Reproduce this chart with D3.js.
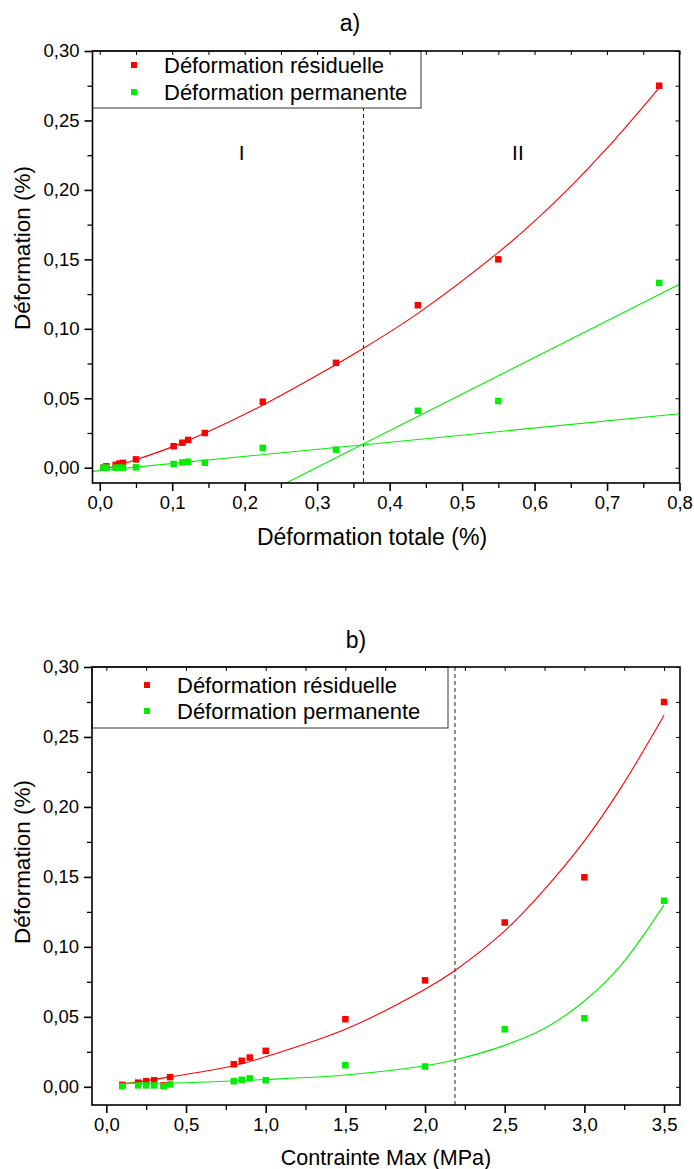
<!DOCTYPE html>
<html><head><meta charset="utf-8">
<script src="https://cdn.jsdelivr.net/npm/d3@7"></script>
<style>
body{margin:0;background:#fff}
svg{display:block}
text{font-family:"Liberation Sans",Arial,sans-serif;fill:#000}
</style>
</head><body>
<svg id="c" width="694" height="1169"></svg>
<script>
// ---------- Panel a) : strain vs total strain ----------
const totalDefA = [0.005, 0.009, 0.022, 0.027, 0.032, 0.050, 0.102, 0.114, 0.122, 0.145, 0.225, 0.326, 0.439, 0.550, 0.772];
const residA    = [0.000, 0.001, 0.002, 0.003, 0.0035, 0.006, 0.0155, 0.018, 0.020, 0.025, 0.0475, 0.0755, 0.117, 0.150, 0.275];
const permA     = [0.000, 0.000, 0.000, 0.000, 0.000, 0.0003, 0.0027, 0.0038, 0.0043, 0.0036, 0.0143, 0.013, 0.041, 0.048, 0.133];
// fitted curve
const residFitAx = [0.0, 0.05, 0.1, 0.15, 0.225, 0.3, 0.364, 0.44, 0.55, 0.6, 0.65, 0.7, 0.772];
const residFitAy = [-0.002, 0.0058, 0.015, 0.026, 0.045, 0.0665, 0.086, 0.1115, 0.155, 0.1775, 0.2025, 0.230, 0.2735];
// two linear fits of permanent strain
const permLine1x = [-0.01, 0.8];
const permLine1y = [-0.0026, 0.0388];
const permLine2x = [0.257, 0.8];
const permLine2y = [-0.011, 0.132];
const splitA = 0.364;
const xTicksA = [0, 0.1, 0.2, 0.3, 0.4, 0.5, 0.6, 0.7, 0.8];
const xTickLabelsA = ["0,0","0,1","0,2","0,3","0,4","0,5","0,6","0,7","0,8"];
const xMinorA = [0.05, 0.15, 0.25, 0.35, 0.45, 0.55, 0.65, 0.75];

// ---------- Panel b) : strain vs max stress ----------
const stressB = [0.1, 0.2, 0.25, 0.3, 0.36, 0.4, 0.8, 0.85, 0.9, 1.0, 1.5, 2.0, 2.5, 3.0, 3.5];
const residB  = [0.0014, 0.003, 0.004, 0.0047, 0.001, 0.0069, 0.0161, 0.0186, 0.0209, 0.0257, 0.0483, 0.0761, 0.1174, 0.1497, 0.275];
const permB   = [0.0004, 0.001, 0.001, 0.001, 0.0004, 0.0017, 0.004, 0.005, 0.006, 0.0047, 0.0154, 0.0145, 0.0411, 0.049, 0.133];
const residFitBx = [0.1, 0.4, 0.8, 1.0, 1.5, 2.0, 2.19, 2.5, 2.76, 3.0, 3.23, 3.5];
const residFitBy = [0.0019, 0.0071, 0.0150, 0.0215, 0.0411, 0.0697, 0.0833, 0.1114, 0.1424, 0.1757, 0.2138, 0.2655];
const permFitBx = [0.1, 0.4, 1.0, 1.5, 2.0, 2.19, 2.5, 2.76, 3.0, 3.23, 3.5];
const permFitBy = [0.0026, 0.0027, 0.0052, 0.0084, 0.015, 0.0193, 0.0296, 0.0424, 0.0613, 0.087, 0.130];
const splitB = 2.188;
const xTicksB = [0, 0.5, 1.0, 1.5, 2.0, 2.5, 3.0, 3.5];
const xTickLabelsB = ["0,0","0,5","1,0","1,5","2,0","2,5","3,0","3,5"];
const xMinorB = [0.25, 0.75, 1.25, 1.75, 2.25, 2.75, 3.25];

// shared y axis
const yTicks = [0, 0.05, 0.10, 0.15, 0.20, 0.25, 0.30];
const yTickLabels = ["0,00","0,05","0,10","0,15","0,20","0,25","0,30"];
const yMinor = [0.025, 0.075, 0.125, 0.175, 0.225, 0.275];

const seriesNames = ["Déformation résiduelle", "Déformation permanente"];
const colors = ["#ff0000", "#00ee00"];

const svg = d3.select("#c");
const zip = (xs, ys) => xs.map((v, i) => [v, ys[i]]);
const FONT = '"Liberation Sans",Arial,sans-serif';

function panel(cfg) {
  const g = svg.append("g");
  const x = d3.scaleLinear().domain(cfg.xDomain).range([cfg.left, cfg.right]);
  const y = d3.scaleLinear().domain(cfg.yDomain).range([cfg.bottom, cfg.top]);
  const clipId = "clip" + cfg.id;
  svg.append("clipPath").attr("id", clipId).append("rect")
    .attr("x", cfg.left).attr("y", cfg.top)
    .attr("width", cfg.right - cfg.left).attr("height", cfg.bottom - cfg.top);

  // split dashed line
  g.append("line")
    .attr("x1", x(cfg.split)).attr("x2", x(cfg.split))
    .attr("y1", cfg.top).attr("y2", cfg.bottom)
    .attr("stroke", "#222").attr("stroke-width", 1).attr("stroke-dasharray", "4,3");

  const line = d3.line().x(d => x(d[0])).y(d => y(d[1]));
  const cg = g.append("g").attr("clip-path", `url(#${clipId})`);
  cfg.curves.forEach(c => {
    cg.append("path").datum(c.pts)
      .attr("d", line.curve(c.smooth ? d3.curveCatmullRom.alpha(0.5) : d3.curveLinear))
      .attr("fill", "none").attr("stroke", c.color).attr("stroke-width", 1.1);
  });

  // markers
  const ms = 6.5;
  cfg.series.forEach(s => {
    g.append("g").selectAll("rect").data(zip(s.xs, s.ys)).join("rect")
      .attr("x", d => x(d[0]) - ms / 2).attr("y", d => y(d[1]) - ms / 2)
      .attr("width", ms).attr("height", ms).attr("fill", s.color);
  });

  // legend
  const lg = g.append("g");
  lg.append("rect").attr("x", cfg.left).attr("y", cfg.top)
    .attr("width", cfg.legendRight - cfg.left).attr("height", cfg.legendH)
    .attr("fill", "#fff").attr("stroke", "#333").attr("stroke-width", 1);
  cfg.series.forEach((s, i) => {
    const cy = cfg.top + cfg.legendRow0 + i * cfg.legendStep;
    lg.append("rect").attr("x", cfg.legendMarkX - 3).attr("y", cy - 3)
      .attr("width", 6).attr("height", 6).attr("fill", s.color);
    lg.append("text").attr("x", cfg.legendTextX).attr("y", cy + 8)
      .attr("font-size", 22).text(s.name);
  });

  // frame
  g.append("rect").attr("x", cfg.left).attr("y", cfg.top)
    .attr("width", cfg.right - cfg.left).attr("height", cfg.bottom - cfg.top)
    .attr("fill", "none").attr("stroke", "#000").attr("stroke-width", 1.6);

  // bottom axis
  const fmtX = (d) => cfg.xLabels[cfg.xTicks.indexOf(d)];
  const ax = g.append("g").attr("transform", `translate(0,${cfg.bottom})`)
    .call(d3.axisBottom(x).tickValues(cfg.xTicks).tickSize(8).tickPadding(5).tickFormat(fmtX));
  ax.select(".domain").remove();
  ax.selectAll("line").attr("stroke-width", 1.6);
  ax.selectAll("text").attr("font-size", 18.5).attr("font-family", FONT);
  const axm = g.append("g").attr("transform", `translate(0,${cfg.bottom})`)
    .call(d3.axisBottom(x).tickValues(cfg.xMinor).tickSize(5).tickFormat(""));
  axm.select(".domain").remove();
  axm.selectAll("line").attr("stroke-width", 1.3);
  // top inward ticks
  const at = g.append("g").attr("transform", `translate(0,${cfg.top})`)
    .call(d3.axisBottom(x).tickValues(cfg.xTicks.concat(cfg.xMinor)).tickSize(4).tickFormat(""));
  at.select(".domain").remove();
  at.selectAll("line").attr("stroke-width", 1);

  // left axis
  const fmtY = (d) => yTickLabels[yTicks.indexOf(d)];
  const ay = g.append("g").attr("transform", `translate(${cfg.left},0)`)
    .call(d3.axisLeft(y).tickValues(yTicks).tickSize(8).tickPadding(5).tickFormat(fmtY));
  ay.select(".domain").remove();
  ay.selectAll("line").attr("stroke-width", 1.6);
  ay.selectAll("text").attr("font-size", 18.5).attr("font-family", FONT);
  const aym = g.append("g").attr("transform", `translate(${cfg.left},0)`)
    .call(d3.axisLeft(y).tickValues(yMinor).tickSize(5).tickFormat(""));
  aym.select(".domain").remove();
  aym.selectAll("line").attr("stroke-width", 1.3);
  // right inward ticks
  const ar = g.append("g").attr("transform", `translate(${cfg.right},0)`)
    .call(d3.axisLeft(y).tickValues(yTicks.concat(yMinor)).tickSize(4).tickFormat(""));
  ar.select(".domain").remove();
  ar.selectAll("line").attr("stroke-width", 1);

  // titles
  g.append("text").attr("x", cfg.titleX).attr("y", cfg.titleY).attr("text-anchor", "middle")
    .attr("font-size", 23).text(cfg.title);
  g.append("text").attr("x", cfg.xTitleX).attr("y", cfg.xTitleY).attr("text-anchor", "middle")
    .attr("font-size", cfg.xTitleSize).text(cfg.xTitle);
  g.append("text").attr("transform", `translate(30,${cfg.yTitleY}) rotate(-90)`)
    .attr("text-anchor", "middle").attr("font-size", 22.5).text("Déformation (%)");

  (cfg.regions || []).forEach(r => {
    g.append("text").attr("x", x(r.x)).attr("y", cfg.regionY).attr("text-anchor", "middle")
      .attr("font-size", 21).text(r.label);
  });
}

panel({
  id: "a", title: "a)", titleX: 350, titleY: 31,
  left: 92.5, right: 679.5, top: 51, bottom: 483,
  xDomain: [-0.01, 0.8], yDomain: [-0.011, 0.30],
  xTicks: xTicksA, xLabels: xTickLabelsA, xMinor: xMinorA,
  xTitle: "Déformation totale (%)", xTitleX: 372, xTitleY: 545, xTitleSize: 23, yTitleY: 248,
  split: splitA,
  legendRight: 421, legendH: 57, legendRow0: 14, legendStep: 27, legendMarkX: 134, legendTextX: 164,
  series: [
    {name: seriesNames[0], color: colors[0], xs: totalDefA, ys: residA},
    {name: seriesNames[1], color: colors[1], xs: totalDefA, ys: permA}
  ],
  curves: [
    {pts: zip(residFitAx, residFitAy), color: colors[0], smooth: true},
    {pts: zip(permLine1x, permLine1y), color: colors[1], smooth: false},
    {pts: zip(permLine2x, permLine2y), color: colors[1], smooth: false}
  ],
  regions: [{x: 0.196, label: "I"}, {x: 0.577, label: "II"}], regionY: 160
});

panel({
  id: "b", title: "b)", titleX: 356, titleY: 648,
  left: 92, right: 680, top: 667, bottom: 1105,
  xDomain: [-0.09, 3.6], yDomain: [-0.013, 0.30],
  xTicks: xTicksB, xLabels: xTickLabelsB, xMinor: xMinorB,
  xTitle: "Contrainte Max (MPa)", xTitleX: 386, xTitleY: 1165, xTitleSize: 21.5, yTitleY: 862,
  split: splitB,
  legendRight: 448, legendH: 61, legendRow0: 18, legendStep: 26, legendMarkX: 147, legendTextX: 177,
  series: [
    {name: seriesNames[0], color: colors[0], xs: stressB, ys: residB},
    {name: seriesNames[1], color: colors[1], xs: stressB, ys: permB}
  ],
  curves: [
    {pts: zip(residFitBx, residFitBy), color: colors[0], smooth: true},
    {pts: zip(permFitBx, permFitBy), color: colors[1], smooth: true}
  ]
});
</script>
</body></html>
